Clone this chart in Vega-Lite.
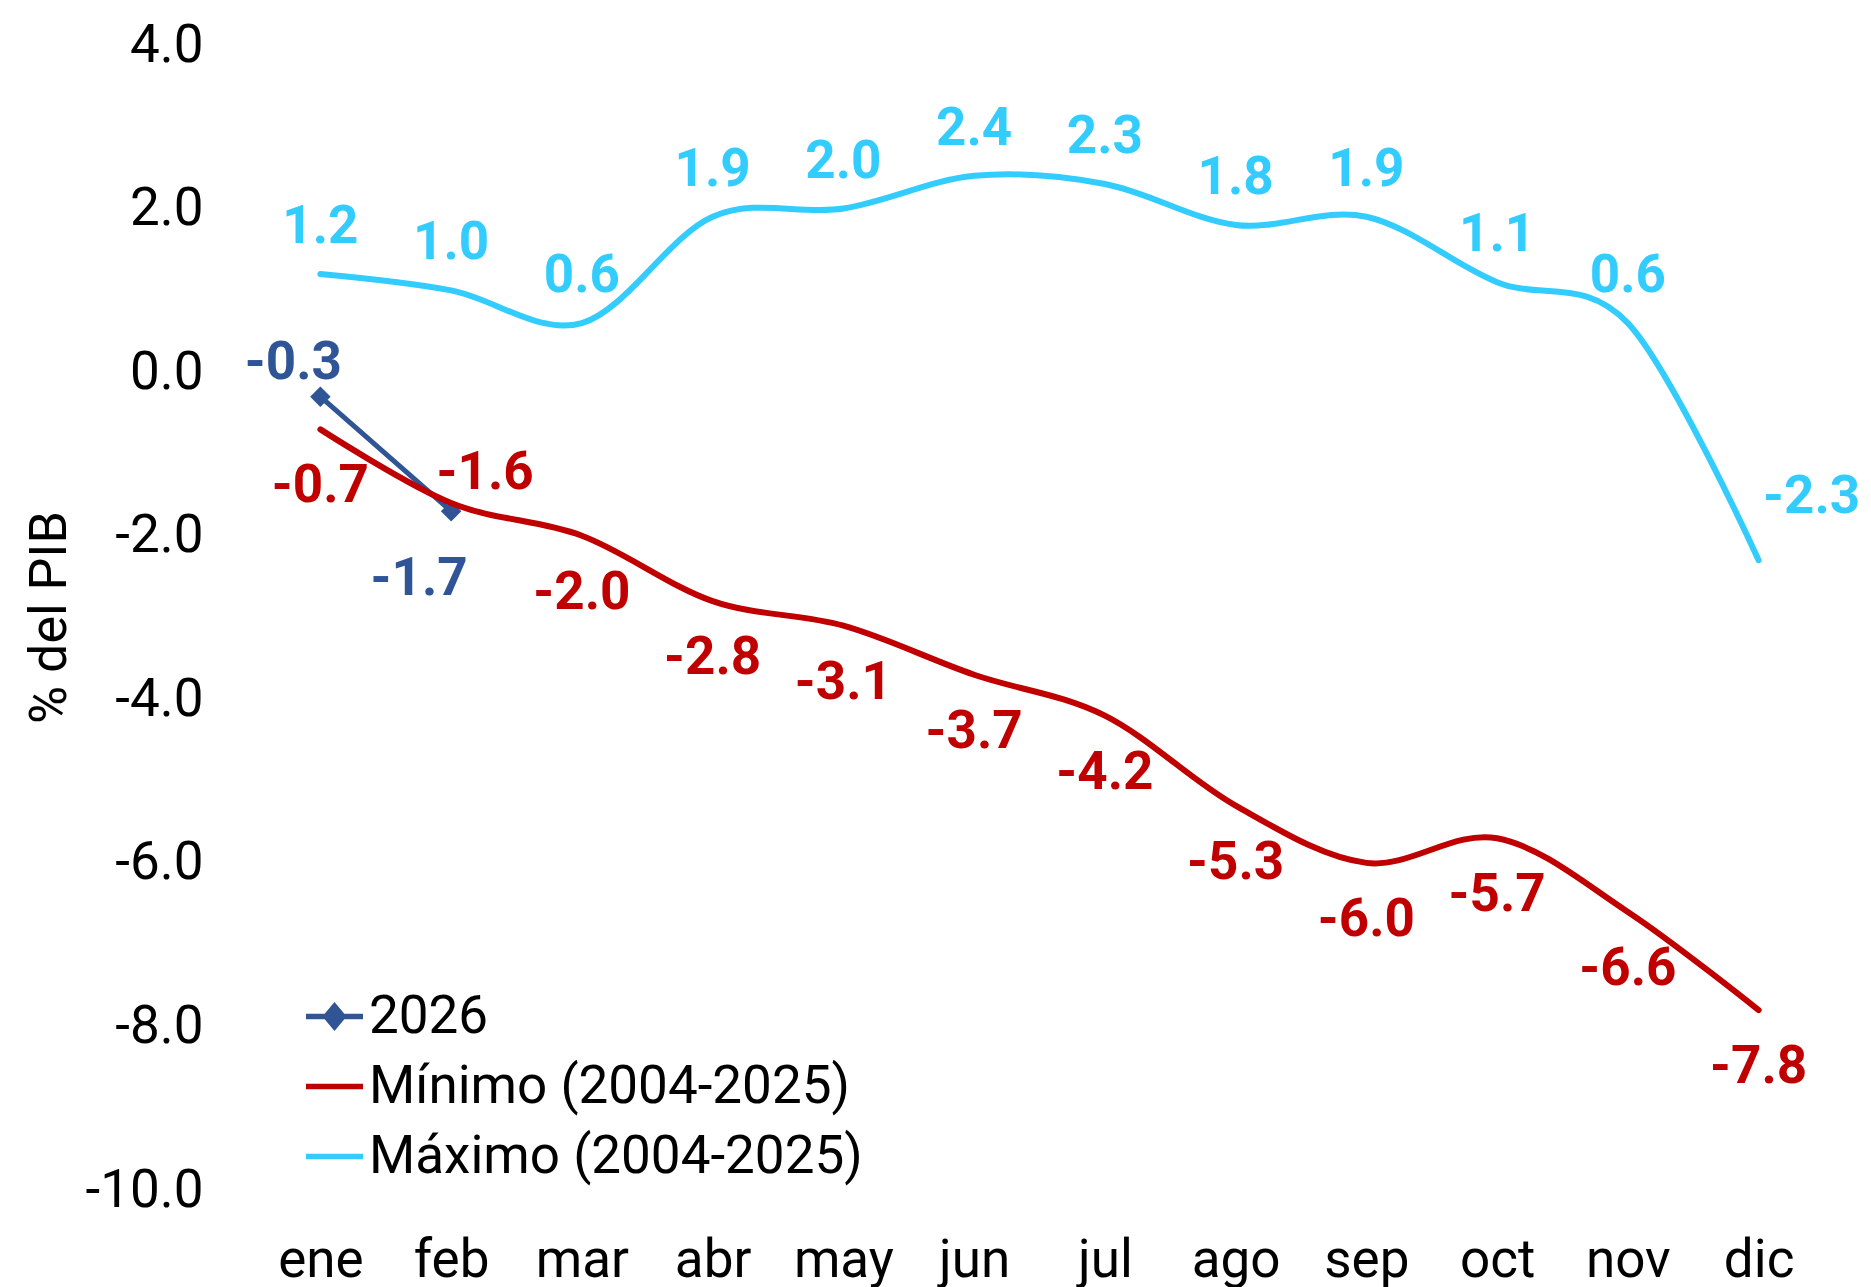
{
  "$schema": "https://vega.github.io/schema/vega-lite/v6.json",
  "width": 1569,
  "height": 1145,
  "autosize": {"type": "none"},
  "padding": {"left": 255, "top": 45, "right": 47, "bottom": 97},
  "config": {
    "view": {"stroke": null},
    "font": "Roboto",
    "locale": {"number": {"decimal": ".", "thousands": ",", "grouping": [3], "currency": ["$", ""], "minus": "-"}}
  },
  "data": {
    "values": [
      {"mes": "ene", "serie": "2026", "valor": -0.3},
      {"mes": "feb", "serie": "2026", "valor": -1.7},
      {"mes": "ene", "serie": "Mínimo (2004-2025)", "valor": -0.7},
      {"mes": "feb", "serie": "Mínimo (2004-2025)", "valor": -1.6},
      {"mes": "mar", "serie": "Mínimo (2004-2025)", "valor": -2.0},
      {"mes": "abr", "serie": "Mínimo (2004-2025)", "valor": -2.8},
      {"mes": "may", "serie": "Mínimo (2004-2025)", "valor": -3.1},
      {"mes": "jun", "serie": "Mínimo (2004-2025)", "valor": -3.7},
      {"mes": "jul", "serie": "Mínimo (2004-2025)", "valor": -4.2},
      {"mes": "ago", "serie": "Mínimo (2004-2025)", "valor": -5.3},
      {"mes": "sep", "serie": "Mínimo (2004-2025)", "valor": -6.0},
      {"mes": "oct", "serie": "Mínimo (2004-2025)", "valor": -5.7},
      {"mes": "nov", "serie": "Mínimo (2004-2025)", "valor": -6.6},
      {"mes": "dic", "serie": "Mínimo (2004-2025)", "valor": -7.8},
      {"mes": "ene", "serie": "Máximo (2004-2025)", "valor": 1.2},
      {"mes": "feb", "serie": "Máximo (2004-2025)", "valor": 1.0},
      {"mes": "mar", "serie": "Máximo (2004-2025)", "valor": 0.6},
      {"mes": "abr", "serie": "Máximo (2004-2025)", "valor": 1.9},
      {"mes": "may", "serie": "Máximo (2004-2025)", "valor": 2.0},
      {"mes": "jun", "serie": "Máximo (2004-2025)", "valor": 2.4},
      {"mes": "jul", "serie": "Máximo (2004-2025)", "valor": 2.3},
      {"mes": "ago", "serie": "Máximo (2004-2025)", "valor": 1.8},
      {"mes": "sep", "serie": "Máximo (2004-2025)", "valor": 1.9},
      {"mes": "oct", "serie": "Máximo (2004-2025)", "valor": 1.1},
      {"mes": "nov", "serie": "Máximo (2004-2025)", "valor": 0.6},
      {"mes": "dic", "serie": "Máximo (2004-2025)", "valor": -2.3}
    ]
  },
  "encoding": {
    "x": {
      "field": "mes",
      "type": "ordinal",
      "sort": ["ene", "feb", "mar", "abr", "may", "jun", "jul", "ago", "sep", "oct", "nov", "dic"],
      "scale": {"type": "point", "padding": 0.5},
      "axis": {
        "title": null,
        "labelAngle": 0,
        "domain": false,
        "ticks": false,
        "tickSize": 0,
        "grid": false,
        "labelFontSize": 53,
        "labelFont": "Roboto",
        "labelColor": "#000000",
        "labelPadding": 44,
        "labelBaseline": "top"
      }
    },
    "y": {
      "field": "valor",
      "type": "quantitative",
      "scale": {"domain": [-10, 4], "nice": false, "zero": false},
      "axis": {
        "values": [-10, -8, -6, -4, -2, 0, 2, 4],
        "format": ".1f",
        "title": "% del PIB",
        "titleFontSize": 52,
        "titleFont": "Roboto",
        "titleFontWeight": "normal",
        "titleColor": "#000000",
        "titleX": -206,
        "titleY": 572,
        "titleAngle": -90,
        "titleBaseline": "middle",
        "titleAlign": "center",
        "domain": false,
        "ticks": false,
        "tickSize": 0,
        "grid": false,
        "labelFontSize": 53,
        "labelFont": "Roboto",
        "labelColor": "#000000",
        "labelPadding": 52
      }
    },
    "color": {
      "field": "serie",
      "type": "nominal",
      "scale": {
        "domain": ["2026", "Mínimo (2004-2025)", "Máximo (2004-2025)"],
        "range": ["#2F5597", "#C00000", "#33CCFF"]
      },
      "legend": {
        "orient": "none",
        "legendX": 48,
        "legendY": 940,
        "title": null,
        "padding": 0,
        "symbolType": "stroke",
        "symbolSize": 3249,
        "symbolStrokeWidth": 5.5,
        "symbolOpacity": 1,
        "labelFontSize": 53,
        "labelFont": "Roboto",
        "labelColor": "#000000",
        "labelOffset": 3,
        "labelLimit": 0,
        "rowPadding": 11,
        "encode": {
          "symbols": {
            "update": {
              "shape": [
                {"test": "datum.label === '2026'", "value": "M-1,0L-0.3,0L0,-0.36L0.3,0L0,0.36L-0.3,0ZM0.3,0L1,0"},
                {"value": "stroke"}
              ],
              "fill": [
                {"test": "datum.label === '2026'", "value": "#2F5597"},
                {"value": "transparent"}
              ]
            }
          }
        }
      }
    }
  },
  "layer": [
    {
      "transform": [{"filter": "datum.serie === '2026'"}],
      "mark": {"type": "line", "strokeWidth": 5, "strokeCap": "round"}
    },
    {
      "transform": [{"filter": "datum.serie === '2026'"}],
      "mark": {"type": "point", "shape": "diamond", "filled": true, "size": 420, "opacity": 1}
    },
    {
      "transform": [{"filter": "datum.serie !== '2026'"}],
      "mark": {"type": "line", "interpolate": "cardinal", "tension": 0, "strokeWidth": 6, "strokeCap": "round"}
    },
    {
      "transform": [{"filter": "datum.serie === 'Máximo (2004-2025)' && datum.mes !== 'dic'"}],
      "mark": {"type": "text", "fontSize": 53, "fontWeight": "bold", "font": "Roboto", "baseline": "middle", "align": "center", "dy": -47},
      "encoding": {"text": {"field": "valor", "type": "quantitative", "format": ".1f"}}
    },
    {
      "transform": [{"filter": "datum.serie === 'Máximo (2004-2025)' && datum.mes === 'dic'"}],
      "mark": {"type": "text", "fontSize": 53, "fontWeight": "bold", "font": "Roboto", "baseline": "middle", "align": "center", "dx": 53, "dy": -63},
      "encoding": {"text": {"field": "valor", "type": "quantitative", "format": ".1f"}}
    },
    {
      "transform": [{"filter": "datum.serie === 'Mínimo (2004-2025)' && datum.mes !== 'feb'"}],
      "mark": {"type": "text", "fontSize": 53, "fontWeight": "bold", "font": "Roboto", "baseline": "middle", "align": "center", "dy": 57},
      "encoding": {"text": {"field": "valor", "type": "quantitative", "format": ".1f"}}
    },
    {
      "transform": [{"filter": "datum.serie === 'Mínimo (2004-2025)' && datum.mes === 'feb'"}],
      "mark": {"type": "text", "fontSize": 53, "fontWeight": "bold", "font": "Roboto", "baseline": "middle", "align": "center", "dx": 34, "dy": -30},
      "encoding": {"text": {"field": "valor", "type": "quantitative", "format": ".1f"}}
    },
    {
      "transform": [{"filter": "datum.serie === '2026' && datum.mes === 'ene'"}],
      "mark": {"type": "text", "fontSize": 53, "fontWeight": "bold", "font": "Roboto", "baseline": "middle", "align": "center", "dx": -27, "dy": -34},
      "encoding": {"text": {"field": "valor", "type": "quantitative", "format": ".1f"}}
    },
    {
      "transform": [{"filter": "datum.serie === '2026' && datum.mes === 'feb'"}],
      "mark": {"type": "text", "fontSize": 53, "fontWeight": "bold", "font": "Roboto", "baseline": "middle", "align": "center", "dx": -32, "dy": 68},
      "encoding": {"text": {"field": "valor", "type": "quantitative", "format": ".1f"}}
    }
  ]
}
